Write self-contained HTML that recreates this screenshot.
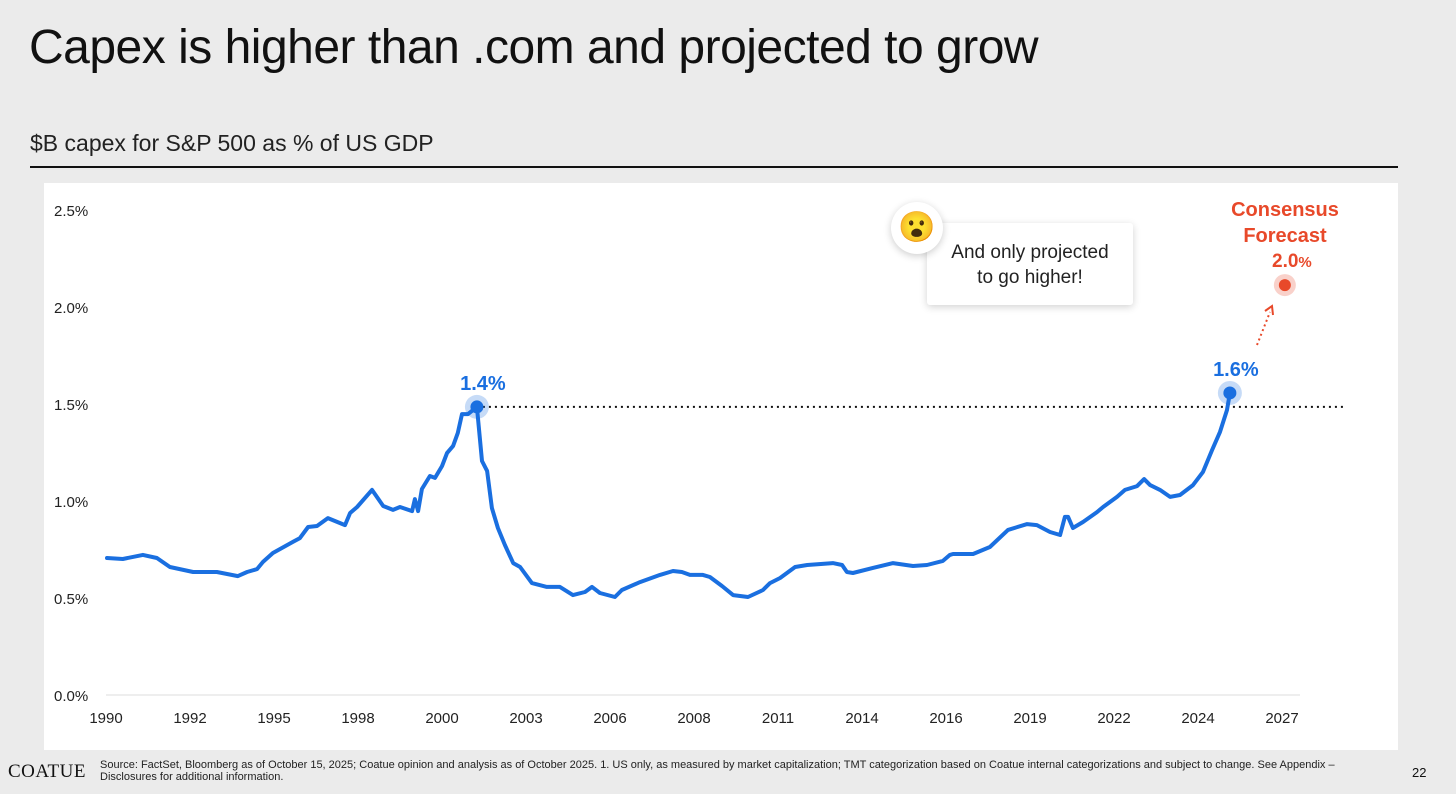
<!DOCTYPE html>
<html><head><meta charset="utf-8">
<style>
body{margin:0;width:1456px;height:794px;background:#ebebeb;font-family:"Liberation Sans",sans-serif;position:relative;overflow:hidden}
.abs{position:absolute}
</style></head><body>
<div class="abs" style="left:29px;top:20px;font-size:48px;color:#111;letter-spacing:-0.5px">Capex is higher than .com and projected to grow</div>
<div class="abs" style="left:30px;top:130px;font-size:23px;color:#222">$B capex for S&amp;P 500 as % of US GDP</div>
<div class="abs" style="left:30px;top:166px;width:1368px;height:2px;background:#111"></div>
<div class="abs" style="left:44px;top:183px;width:1354px;height:567px;background:#fff"></div>
<svg class="abs" id="chart" style="left:0;top:0" width="1456" height="794"></svg>
<div class="abs" style="left:927px;top:223px;width:206px;height:82px;background:#fff;box-shadow:0 2px 8px rgba(0,0,0,0.18);border-radius:3px;text-align:center;font-size:19px;color:#222;line-height:25px;padding-top:17px;box-sizing:border-box">And only projected<br>to go higher!</div>
<div class="abs" style="left:891px;top:202px;width:52px;height:52px;border-radius:50%;background:#fff;box-shadow:0 2px 8px rgba(0,0,0,0.2);text-align:center;line-height:52px;font-size:30px">😮</div>
<div class="abs" style="left:1220px;top:197px;width:130px;text-align:center;color:#e8492a;font-weight:bold;font-size:20px;line-height:26px">Consensus<br>Forecast</div>
<div class="abs" style="left:1272px;top:251px;color:#e8492a;font-weight:bold;font-size:19px">2.0<span style="font-size:15px">%</span></div>
<div class="abs" style="left:8px;top:761px;font-family:'Liberation Serif',serif;font-size:19px;color:#111;letter-spacing:0.5px">COATUE</div>
<div class="abs" style="left:100px;top:759px;width:1245px;font-size:11px;color:#222;line-height:12px">Source: FactSet, Bloomberg as of October 15, 2025; Coatue opinion and analysis as of October 2025. 1. US only, as measured by market capitalization; TMT categorization based on Coatue internal categorizations and subject to change. See Appendix – Disclosures for additional information.</div>
<div class="abs" style="left:1412px;top:765px;font-size:13px;color:#111">22</div>
<script>
const years=[1990.03,1990.53,1991.16,1991.6,1992.01,1992.74,1993.49,1994.15,1994.44,1994.75,1994.94,1995.25,1995.88,1996.1,1996.36,1996.64,1996.98,1997.52,1997.68,1997.9,1998.37,1998.72,1999.03,1999.25,1999.63,1999.72,1999.82,1999.94,2000.19,2000.35,2000.57,2000.73,2000.92,2001.07,2001.2,2001.39,2001.67,2001.83,2001.99,2002.14,2002.33,2002.55,2002.81,2003.03,2003.4,2003.87,2004.28,2004.69,2005.07,2005.29,2005.54,2006.01,2006.23,2006.8,2007.43,2007.84,2008.12,2008.37,2008.78,2009.0,2009.38,2009.73,2010.2,2010.67,2010.89,2011.21,2011.68,2012.06,2012.87,2013.16,2013.31,2013.5,2014.13,2014.76,2015.39,2015.83,2016.33,2016.55,2016.65,2017.28,2017.81,2018.38,2018.98,2019.29,2019.7,2020.02,2020.17,2020.27,2020.42,2020.74,2021.18,2021.37,2021.81,2022.06,2022.44,2022.66,2022.85,2023.16,2023.48,2023.79,2024.2,2024.51,2024.8,2025.05,2025.27,2025.36];
const capexPct=[0.706,0.701,0.722,0.706,0.66,0.634,0.634,0.613,0.634,0.649,0.686,0.732,0.789,0.809,0.866,0.871,0.912,0.876,0.938,0.969,1.057,0.974,0.954,0.969,0.948,1.01,0.948,1.062,1.129,1.119,1.18,1.247,1.284,1.351,1.448,1.448,1.485,1.206,1.155,0.964,0.861,0.773,0.68,0.66,0.577,0.557,0.557,0.515,0.531,0.557,0.526,0.505,0.541,0.582,0.619,0.639,0.634,0.619,0.619,0.608,0.562,0.515,0.505,0.541,0.577,0.603,0.66,0.67,0.68,0.67,0.634,0.629,0.655,0.68,0.665,0.67,0.691,0.722,0.727,0.727,0.763,0.851,0.881,0.876,0.84,0.825,0.918,0.918,0.861,0.892,0.943,0.969,1.021,1.057,1.077,1.113,1.082,1.057,1.021,1.031,1.082,1.149,1.263,1.356,1.469,1.557];
const yTicks=[0,0.5,1.0,1.5,2.0,2.5];
const yTickLabels=["0.0%","0.5%","1.0%","1.5%","2.0%","2.5%"];
const xTickLabels=["1990","1992","1995","1998","2000","2003","2006","2008","2011","2014","2016","2019","2022","2024","2027"];
const dotcomPeak={year:2001.67,value:1.485,label:"1.4%"};
const latest={year:2025.36,value:1.557,label:"1.6%"};
const forecast={year:2027.09,value:2.113};

const NS="http://www.w3.org/2000/svg";
const svg=document.getElementById('chart');
const X0=106,X1=1282,Y0=695,PXPER=194;
const xs=y=>X0+(y-1990)/37*(X1-X0);
const ys=v=>Y0-v*PXPER;
function mk(tag,attrs){const e=document.createElementNS(NS,tag);for(const k in attrs)e.setAttribute(k,attrs[k]);svg.appendChild(e);return e;}

const base=mk('line',{x1:X0,x2:1300,y1:Y0,y2:Y0,stroke:'#ddd','stroke-width':1});


yTicks.forEach((t,i)=>{
  const tx=mk('text',{x:54,y:ys(t)+6,'font-size':15,fill:'#222','font-family':'Liberation Sans, sans-serif'});
  tx.textContent=yTickLabels[i];
  
  
});
xTickLabels.forEach((l,i)=>{
  const px=X0+i*(X1-X0)/(xTickLabels.length-1);
  const tx=mk('text',{x:px,y:723,'font-size':15,fill:'#222','text-anchor':'middle','font-family':'Liberation Sans, sans-serif'});
  tx.textContent=l;
  
  
});
const ref=mk('line',{x1:xs(dotcomPeak.year),x2:1345,y1:ys(dotcomPeak.value),y2:ys(dotcomPeak.value),stroke:'#111','stroke-width':2,'stroke-dasharray':'2 4'});


const d=years.map((y,i)=>(i?'L':'M')+xs(y).toFixed(1)+','+ys(capexPct[i]).toFixed(1)).join('');
const line=mk('path',{d:d,fill:'none',stroke:'#1a6fe0','stroke-width':4,'stroke-linejoin':'round','stroke-linecap':'round'});


[dotcomPeak,latest].forEach(p=>{
  const h=mk('circle',{cx:xs(p.year),cy:ys(p.value),r:12,fill:'#1a6fe0','fill-opacity':0.25});
  
  
  const c=mk('circle',{cx:xs(p.year),cy:ys(p.value),r:6.5,fill:'#1a6fe0'});
  
  
  const t=mk('text',{x:xs(p.year)+6,y:ys(p.value)-17,'font-size':20,'font-weight':'bold',fill:'#1a6fe0','text-anchor':'middle','font-family':'Liberation Sans, sans-serif'});
  t.textContent=p.label;
  
  
});
const fh=mk('circle',{cx:xs(forecast.year),cy:ys(forecast.value),r:11,fill:'#e8492a','fill-opacity':0.25});


const fc=mk('circle',{cx:xs(forecast.year),cy:ys(forecast.value),r:6,fill:'#e8492a'});


const ar=mk('line',{x1:1257,y1:345,x2:1270,y2:312,stroke:'#e8492a','stroke-width':2,'stroke-dasharray':'2 3'});


const ah=mk('path',{d:'M1265,311 L1272,306 L1273,315',fill:'none',stroke:'#e8492a','stroke-width':2});


</script>
</body></html>
